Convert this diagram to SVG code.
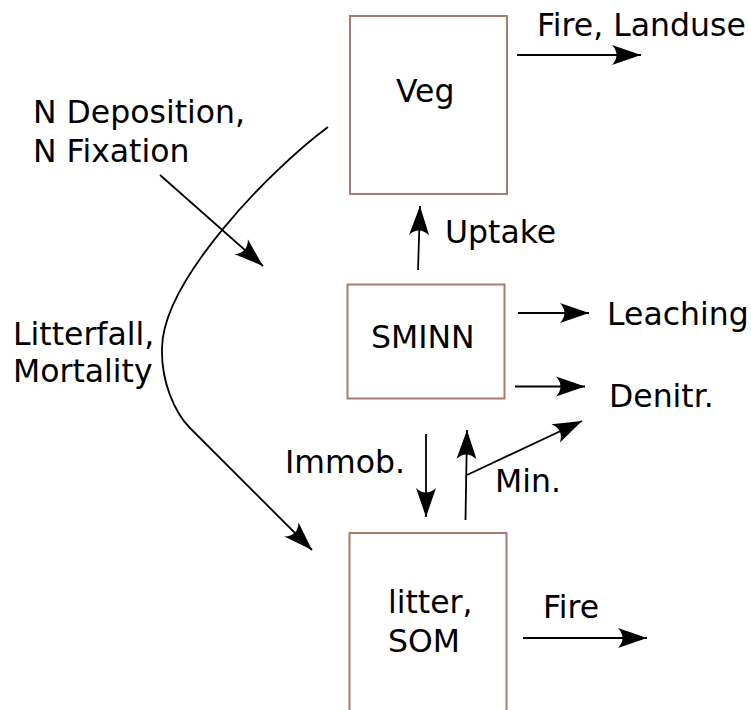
<svg xmlns="http://www.w3.org/2000/svg" width="751" height="710" viewBox="0 0 751 710">
  <defs>
    <style>
      .box { fill: #ffffff; stroke: #a67c6e; stroke-width: 2; }
      .lbl { font-family: "DejaVu Sans", "Liberation Sans", sans-serif; font-size: 31.5px; fill: #000000; }
      .flow { fill: none; stroke: #000000; stroke-width: 1.8; marker-end: url(#head); }
    </style>
    <marker id="head" markerUnits="userSpaceOnUse" viewBox="-31 -11 32 22" refX="0" refY="0" markerWidth="32" markerHeight="22" orient="auto">
      <path d="M0,0 L-29,-10 Q-20,0 -29,10 Z" fill="#000000"/>
    </marker>
  </defs>
  <rect width="751" height="710" fill="#ffffff"/>

  <g id="connectors">
    <path class="flow" d="M517,55 L641,55"/>
    <path class="flow" d="M418,270 L420,206"/>
    <path class="flow" d="M160,175 L263,266"/>
    <path class="flow" d="M328,127 C270,170 163,280 162,348 C161,382 175,413 190,428 L312,550"/>
    <path class="flow" d="M518,313 L589,313"/>
    <path class="flow" d="M515,386.5 L585,386.5"/>
    <path class="flow" d="M426,434 L426,517"/>
    <path class="flow" d="M465.5,520 L467,430"/>
    <path class="flow" d="M467,475 L582,421"/>
    <path class="flow" d="M523,638 L647,638"/>
  </g>

  <g id="veg">
    <rect class="box" x="350" y="16" width="157" height="178"/>
    <text class="lbl" x="396" y="102">Veg</text>
  </g>
  <g id="sminn">
    <rect class="box" x="347.5" y="284.5" width="157" height="114"/>
    <text class="lbl" x="371" y="348">SMINN</text>
  </g>
  <g id="litter">
    <rect class="box" x="349.5" y="533" width="157" height="190"/>
    <text class="lbl" x="388" y="613">litter,</text>
    <text class="lbl" x="388" y="652">SOM</text>
  </g>

  <g id="labels">
    <text class="lbl" x="537" y="36">Fire, Landuse</text>
    <text class="lbl" x="33" y="123">N Deposition,</text>
    <text class="lbl" x="33" y="162">N Fixation</text>
    <text class="lbl" x="445" y="243">Uptake</text>
    <text class="lbl" x="607" y="325">Leaching</text>
    <text class="lbl" x="609" y="407">Denitr.</text>
    <text class="lbl" x="13" y="345">Litterfall,</text>
    <text class="lbl" x="13" y="382">Mortality</text>
    <text class="lbl" x="285" y="473">Immob.</text>
    <text class="lbl" x="495" y="492">Min.</text>
    <text class="lbl" x="543" y="618">Fire</text>
  </g>
</svg>
